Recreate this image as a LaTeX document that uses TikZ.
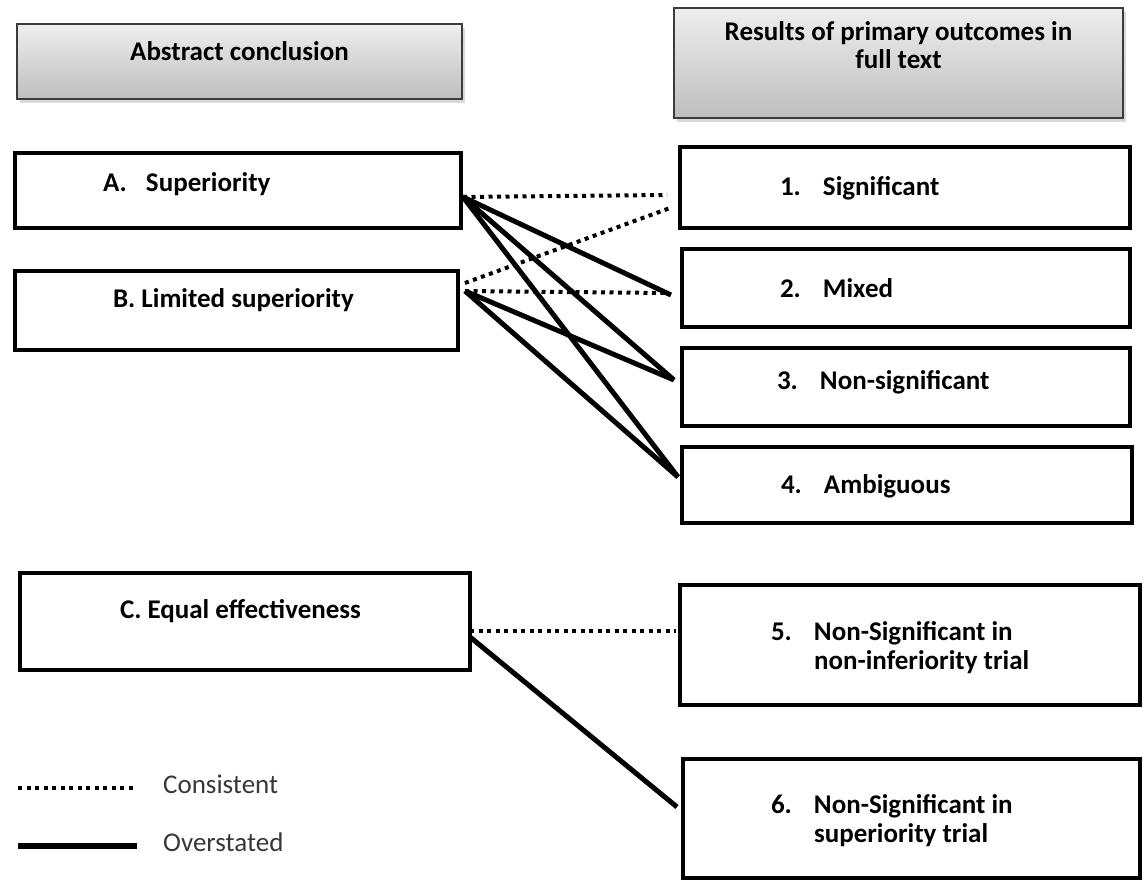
\documentclass[tikz,border=0pt]{standalone}
\usepackage{fontspec}
\setmainfont{Carlito}
\usetikzlibrary{positioning, calc, shadows}
\definecolor{headerTop}{RGB}{238, 238, 238}
\definecolor{headerBottom}{RGB}{190, 190, 190}
\definecolor{headerLine}{RGB}{60, 60, 60}
\definecolor{legendText}{RGB}{55, 55, 55}

\newcommand{\numlabel}[2]{\makebox[43pt][l]{#1}#2}
\newcommand{\leftbox}[2]{\makebox[#1][l]{#2}}

\begin{document}
\begin{tikzpicture}[
        x=1pt, y=-1pt,
        box/.style={rectangle, draw=black, line width=3.5pt, anchor=north west, inner sep=0pt, outer sep=0pt, text height=20pt, font=\fontsize{27}{29}\selectfont\bfseries},
        header/.style={rectangle, draw=headerLine, line width=1.5pt, anchor=north west, inner sep=0pt, outer sep=0pt, top color=headerTop, bottom color=headerBottom, drop shadow={shadow xshift=3pt, shadow yshift=-4pt, opacity=0.3}, text height=20pt, font=\fontsize{27}{28}\selectfont\bfseries},
        consistent/.style={line width=4pt, dash pattern=on 4pt off 4.5pt},
        overstated/.style={line width=5pt},
        legend/.style={anchor=base west, inner sep=0pt, text=legendText, font=\fontsize{27}{29}\selectfont}
    ]
        \useasboundingbox (0,0) rectangle (1145,880);

        \node[header, minimum width=445pt, minimum height=75pt, text depth=21pt] (abstract) at (17,24) {Abstract conclusion};
        \node[header, minimum width=449pt, minimum height=110pt, text depth=64pt] (results) at (674,8) {\begin{tabular}[t]{@{}c@{}}Results of primary outcomes in\\ full text\end{tabular}};

        \node[box, minimum width=446pt, minimum height=75pt, text depth=19pt] (supA) at (15,153) {\leftbox{270pt}{\numlabel{A.}{Superiority}}};
        \node[box, minimum width=443pt, minimum height=79pt, text depth=27pt] (limB) at (15,271) {\leftbox{247pt}{B. Limited superiority}};
        \node[box, minimum width=450pt, minimum height=97pt, text depth=26pt] (equalC) at (20,573) {\leftbox{250pt}{C. Equal effectiveness}};

        \node[box, minimum width=450pt, minimum height=81pt, text depth=5pt] (sig) at (680,147) {\leftbox{250pt}{\numlabel{1.}{Significant}}};
        \node[box, minimum width=448pt, minimum height=78pt, text depth=2pt] (mixed) at (682,249) {\leftbox{252pt}{\numlabel{2.}{Mixed}}};
        \node[box, minimum width=448pt, minimum height=78pt, text depth=16pt] (nonsig) at (682,348) {\leftbox{258pt}{\numlabel{3.}{Non-significant}}};
        \node[box, minimum width=450pt, minimum height=76pt, text depth=3pt] (ambig) at (682,447) {\leftbox{252pt}{\numlabel{4.}{Ambiguous}}};
        \node[box, minimum width=460pt, minimum height=120pt, text depth=30pt] (noninf) at (680,585) {\leftbox{278pt}{\begin{tabular}[t]{@{}l@{}}\numlabel{5.}{Non-Significant in}\\ \hspace*{43pt}non-inferiority trial\end{tabular}}};
        \node[box, minimum width=457pt, minimum height=119pt, text depth=31pt] (suptrial) at (683,759) {\leftbox{281pt}{\begin{tabular}[t]{@{}l@{}}\numlabel{6.}{Non-Significant in}\\ \hspace*{43pt}superiority trial\end{tabular}}};

        \coordinate (outA) at ($(supA.east)+(2,6.5)$);
        \coordinate (outB1) at ($(limB.east)+(7,-27.5)$);
        \coordinate (outB) at ($(limB.east)+(7,-19.5)$);
        \coordinate (outC1) at ($(equalC.east)+(0,9.5)$);
        \coordinate (outC2) at ($(equalC.east)+(0,15.5)$);
        \coordinate (in1a) at ($(sig.west)+(-13,7.5)$);
        \coordinate (in1b) at ($(sig.west)+(-10,20.5)$);
        \coordinate (in2a) at ($(mixed.west)+(-11,7)$);
        \coordinate (in2b) at ($(mixed.west)+(-17,5)$);
        \coordinate (in3) at ($(nonsig.west)+(-8,-7)$);
        \coordinate (in4) at ($(ambig.west)+(-4,-8)$);
        \coordinate (in5) at ($(noninf.west)+(-4,-14)$);
        \coordinate (in6) at ($(suptrial.west)+(-6,-11.5)$);

        \draw[consistent] (outA) -- (in1a);
        \draw[overstated] (outA) -- (in2a);
        \draw[overstated] (outA) -- (in3);
        \draw[overstated] (outA) -- (in4);
        \draw[consistent] (outB1) -- (in1b);
        \draw[consistent] (outB) -- (in2b);
        \draw[overstated] (outB) -- (in3);
        \draw[overstated] (outB) -- (in4);
        \draw[consistent] (outC1) -- (in5);
        \draw[overstated] (outC2) -- (in6);

        \coordinate (legDotL) at (18,788);
        \coordinate (legDotR) at (135,788);
        \coordinate (legSolL) at (18,846);
        \coordinate (legSolR) at (137,846);
        \draw[consistent] (legDotL) -- (legDotR);
        \draw[overstated, line width=6pt] (legSolL) -- (legSolR);
        \node[legend] (consistentLabel) at (163,793) {Consistent};
        \node[legend] (overstatedLabel) at (163,851) {Overstated};
    \end{tikzpicture}
\end{document}
